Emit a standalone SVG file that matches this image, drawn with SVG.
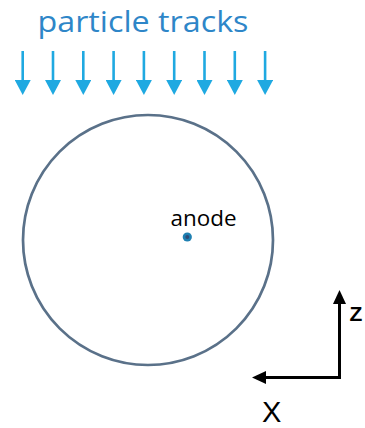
<svg xmlns="http://www.w3.org/2000/svg" width="365" height="428" viewBox="0 0 365 428">
  <style>
    .track { stroke: #1fa9e1; stroke-width: 2.6; fill: none; }
    .axis { stroke: #000; stroke-width: 3; fill: none; }
    .title { font-family: "Open Sans", "Noto Sans", sans-serif; font-size: 29px; fill: #2e86c8; }
    .label { font-family: "Open Sans", "Noto Sans", sans-serif; font-size: 21px; fill: #000; }
    .axlabel { font-family: "Liberation Sans", Arial, sans-serif; fill: #000; }
  </style>
  <defs>
    <marker id="trackHead" markerUnits="userSpaceOnUse" markerWidth="15" markerHeight="16" viewBox="0 0 15 16" refX="0" refY="8" orient="auto">
      <path d="M0,0 L15,8 L0,16 Z" fill="#1fa9e1"/>
    </marker>
    <marker id="axisHead" markerUnits="userSpaceOnUse" markerWidth="14" markerHeight="13" viewBox="0 0 14 13" refX="0" refY="6.5" orient="auto">
      <path d="M0,0 L14,6.5 L0,13 Z" fill="#000"/>
    </marker>
  </defs>

  <g id="title">
    <text class="title" x="37.5" y="32" textLength="211" lengthAdjust="spacingAndGlyphs">particle tracks</text>
  </g>

  <g id="tracks">
    <line class="track" x1="22.7" y1="51" x2="22.7" y2="80" marker-end="url(#trackHead)"/>
    <line class="track" x1="53" y1="51" x2="53" y2="80" marker-end="url(#trackHead)"/>
    <line class="track" x1="83.3" y1="51" x2="83.3" y2="80" marker-end="url(#trackHead)"/>
    <line class="track" x1="113.6" y1="51" x2="113.6" y2="80" marker-end="url(#trackHead)"/>
    <line class="track" x1="143.9" y1="51" x2="143.9" y2="80" marker-end="url(#trackHead)"/>
    <line class="track" x1="174.2" y1="51" x2="174.2" y2="80" marker-end="url(#trackHead)"/>
    <line class="track" x1="204.5" y1="51" x2="204.5" y2="80" marker-end="url(#trackHead)"/>
    <line class="track" x1="234.8" y1="51" x2="234.8" y2="80" marker-end="url(#trackHead)"/>
    <line class="track" x1="265.1" y1="51" x2="265.1" y2="80" marker-end="url(#trackHead)"/>
  </g>

  <g id="detector">
    <circle cx="148" cy="240" r="125" fill="none" stroke="#5a7189" stroke-width="2.7"/>
  </g>

  <g id="anode">
    <circle cx="187.3" cy="237" r="4.6" fill="#1f80b2"/>
    <circle cx="187.3" cy="237" r="2" fill="#2f4c78"/>
    <text class="label" x="170.5" y="225.5" textLength="66" lengthAdjust="spacingAndGlyphs">anode</text>
  </g>

  <g id="axes">
    <line class="axis" x1="339.5" y1="377.5" x2="339.5" y2="304" marker-end="url(#axisHead)"/>
    <line class="axis" x1="341" y1="377.5" x2="266" y2="377.5" marker-end="url(#axisHead)"/>
    <text class="axlabel" x="349.5" y="321" font-size="21" font-weight="bold">Z</text>
    <text class="axlabel" x="262" y="421.5" font-size="29">X</text>
  </g>
</svg>
